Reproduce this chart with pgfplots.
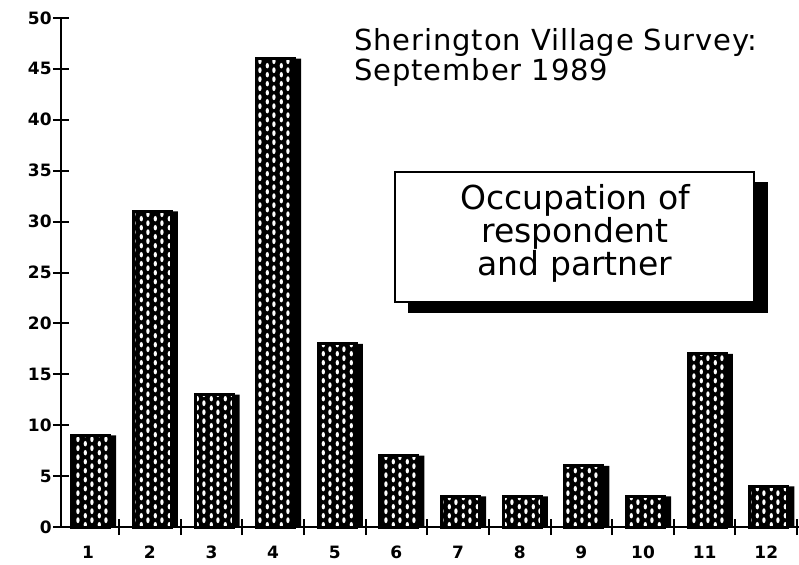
\documentclass[border=0pt]{standalone}
\usepackage{fontspec}
\setmainfont{DejaVu Sans}
\newfontfamily\titlefont{DejaVu Sans}[LetterSpace=3]
\usepackage{pgfplots}
\pgfplotsset{compat=1.18}
\usetikzlibrary{patterns}

% white staggered dots, painted over a black fill
\pgfdeclarepatternformonly{bardots}{\pgfqpoint{0pt}{0pt}}{\pgfqpoint{6.8pt}{4.4pt}}{\pgfqpoint{6.8pt}{4.4pt}}{%
  \pgfpathellipse{\pgfqpoint{1.7pt}{2.2pt}}{\pgfqpoint{0.85pt}{0pt}}{\pgfqpoint{0pt}{1.4pt}}%
  \pgfpathellipse{\pgfqpoint{5.1pt}{0pt}}{\pgfqpoint{0.85pt}{0pt}}{\pgfqpoint{0pt}{1.4pt}}%
  \pgfpathellipse{\pgfqpoint{5.1pt}{4.4pt}}{\pgfqpoint{0.85pt}{0pt}}{\pgfqpoint{0pt}{1.4pt}}%
  \pgfusepath{fill}}

\pgfplotstableread{
cat count
1  9
2  31
3  13
4  46
5  18
6  7
7  3
8  3
9  6
10 3
11 17
12 4
}\occupation

\begin{document}
\begin{tikzpicture}
\useasboundingbox (-30.5pt,-18.5pt) rectangle (369pt,263.5pt);
\begin{axis}[
  at={(0,0)}, anchor=south west,
  scale only axis, width=369pt, height=254.5pt,
  xmin=0.56, xmax=12.53, ymin=0, ymax=50,
  axis lines=left,
  axis line style={-, line width=1pt},
  xtick={1,...,12},
  minor xtick={1.5,2.5,...,12.5},
  ytick={0,5,...,50},
  tick align=center,
  major tick length=8pt,
  minor tick length=8pt,
  major x tick style={draw=none},
  tick style={line width=1pt, black},
  /pgf/number format/assume math mode=true,
  ticklabel style={font=\bfseries\fontsize{8.5}{9}\selectfont},
  yticklabel style={inner sep=0pt, xshift=-0.5pt},
  xticklabel style={yshift=-2pt},
  clip=false,
]
% drop shadow to the right of each bar
\addplot[ybar, bar width=20.5pt, bar shift=3.8pt, fill=black, draw=none]
  table[x=cat, y=count] {\occupation};
% dotted bar body
\addplot[ybar, bar width=19pt, bar shift=1.3pt, draw=none, fill=black,
  postaction={pattern=bardots, pattern color=white}]
  table[x=cat, y=count] {\occupation};
% bar outline
\addplot[ybar, bar width=19pt, bar shift=1.3pt, draw=black, fill=none, line width=1.5pt]
  table[x=cat, y=count] {\occupation};
\end{axis}

% title
\node[anchor=base west, inner sep=0pt, font=\titlefont\fontsize{14.5}{15}\selectfont]
  at (146.5pt,238.5pt) {Sherington Village Survey:};
\node[anchor=base west, inner sep=0pt, font=\titlefont\fontsize{14.5}{15}\selectfont]
  at (146.5pt,223.5pt) {September 1989};

% boxed caption with drop shadow
\fill[black] (173.5pt,107pt) rectangle (353.5pt,172.5pt);
\draw[fill=white, line width=1pt] (167pt,112.5pt) rectangle (346.5pt,177.5pt);
\node[anchor=base, inner sep=0pt, font=\fontsize{16.5}{17}\selectfont] at (257pt,159pt) {Occupation of};
\node[anchor=base, inner sep=0pt, font=\fontsize{16.5}{17}\selectfont] at (257pt,142.5pt) {respondent};
\node[anchor=base, inner sep=0pt, font=\fontsize{16.5}{17}\selectfont] at (257pt,126pt) {and partner};
\end{tikzpicture}
\end{document}
